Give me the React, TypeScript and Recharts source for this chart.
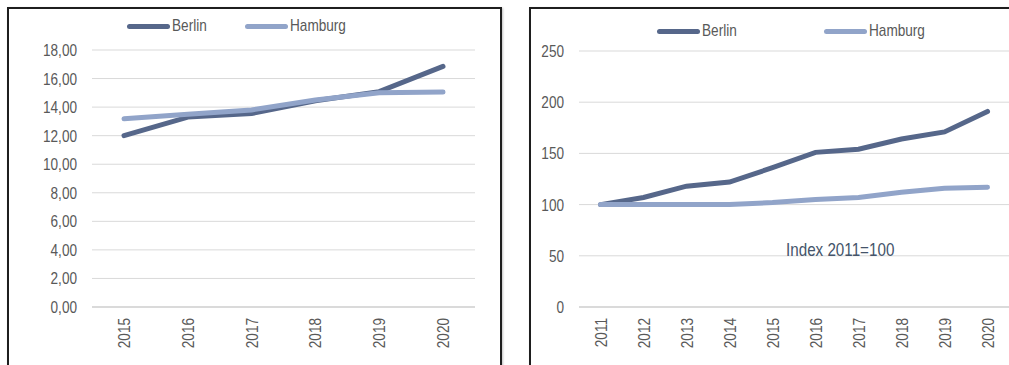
import React from "react";
import { LineChart, Line, XAxis, YAxis, CartesianGrid } from "recharts";

const yearsLeft = ["2015", "2016", "2017", "2018", "2019", "2020"];
const berlinLeft = [12.0, 13.3, 13.55, 14.45, 15.08, 16.85];
const hamburgLeft = [13.18, 13.5, 13.8, 14.5, 15.0, 15.05];
const ticksLeft = [0, 2, 4, 6, 8, 10, 12, 14, 16, 18];

const yearsRight = ["2011", "2012", "2013", "2014", "2015", "2016", "2017", "2018", "2019", "2020"];
const berlinRight = [100, 107, 118, 122, 136, 151, 154, 164, 171, 191];
const hamburgRight = [100, 100, 100, 100, 102, 105, 107, 112, 116, 117];
const ticksRight = [0, 50, 100, 150, 200, 250];

const BERLIN = "#56678a";
const HAMBURG = "#91a4c9";
const TEXT = "#595959";
const GRID = "#d9d9d9";
const FONT = "'Liberation Sans', Arial, sans-serif";
const NARROW = 0.8;
const SIZE = 17;

const leftData = yearsLeft.map((year, i) => ({
  year,
  Berlin: berlinLeft[i],
  Hamburg: hamburgLeft[i],
}));

const rightData = yearsRight.map((year, i) => ({
  year,
  Berlin: berlinRight[i],
  Hamburg: hamburgRight[i],
}));

const fmtComma = (v: number) => v.toFixed(2).replace(".", ",");

function YearTick({ x, y, payload }: any) {
  const ax = x + 6;
  const ay = y + 11;
  return (
    <text
      transform={`translate(${ax}, ${ay}) rotate(-90) scale(${NARROW}, 1)`}
      textAnchor="end"
      fill={TEXT}
      fontSize={SIZE}
      fontFamily={FONT}
    >
      {payload.value}
    </text>
  );
}

function ValueTick({ x, y, payload, format }: any) {
  return (
    <text
      transform={`translate(${x}, ${y}) scale(${NARROW}, 1)`}
      textAnchor="end"
      dy="0.355em"
      fill={TEXT}
      fontSize={SIZE}
      fontFamily={FONT}
    >
      {format ? format(payload.value) : payload.value}
    </text>
  );
}

function LegendItem({ x, y, color, label }: { x: number; y: number; color: string; label: string }) {
  return (
    <>
      <div
        style={{
          position: "absolute",
          left: x,
          top: y - 2,
          width: 43,
          height: 5,
          borderRadius: 3,
          background: color,
        }}
      />
      <div
        style={{
          position: "absolute",
          left: x + 45,
          top: y - 10,
          fontSize: SIZE,
          lineHeight: "20px",
          color: TEXT,
          fontFamily: FONT,
          transform: `scaleX(${NARROW})`,
          transformOrigin: "left center",
          whiteSpace: "nowrap",
        }}
      >
        {label}
      </div>
    </>
  );
}

function Panel({ left, width }: { left: number; width: number }) {
  return (
    <div
      style={{
        position: "absolute",
        left,
        top: 7,
        width,
        height: 380,
        borderTop: "2px solid #1e1e1e",
        borderLeft: "2px solid #1e1e1e",
        borderRight: "2px solid #1e1e1e",
        boxShadow: "1px 1px 2px rgba(0,0,0,0.25)",
        boxSizing: "border-box",
      }}
    />
  );
}

export default function App() {
  return (
    <div
      style={{
        position: "fixed",
        left: 0,
        top: 0,
        width: 1009,
        height: 365,
        background: "#fff",
        overflow: "hidden",
        fontFamily: FONT,
      }}
    >
      <Panel left={7} width={495} />
      <Panel left={529} width={500} />

      <div style={{ position: "absolute", left: 0, top: 0 }}>
        <LineChart
          width={505}
          height={365}
          data={leftData}
          margin={{ top: 50, right: 30, bottom: 0, left: 42 }}
        >
          <CartesianGrid vertical={false} stroke={GRID} />
          <XAxis
            dataKey="year"
            axisLine={{ stroke: "#c8c8c8" }}
            tickLine={false}
            tickSize={0}
            tickMargin={0}
            height={58}
            padding={{ left: 32, right: 32 }}
            tick={<YearTick />}
            interval={0}
          />
          <YAxis
            domain={[0, 18]}
            ticks={ticksLeft}
            width={50}
            axisLine={false}
            tickLine={false}
            tickSize={0}
            tickMargin={15}
            tick={<ValueTick format={fmtComma} />}
          />
          <Line
            dataKey="Berlin"
            stroke={BERLIN}
            strokeWidth={5}
            strokeLinecap="round"
            dot={false}
            isAnimationActive={false}
          />
          <Line
            dataKey="Hamburg"
            stroke={HAMBURG}
            strokeWidth={5}
            strokeLinecap="round"
            dot={false}
            isAnimationActive={false}
          />
        </LineChart>
      </div>

      <div style={{ position: "absolute", left: 505, top: 0 }}>
        <LineChart
          width={504}
          height={365}
          data={rightData}
          margin={{ top: 51, right: 0, bottom: 0, left: 34 }}
        >
          <CartesianGrid vertical={false} stroke={GRID} />
          <XAxis
            dataKey="year"
            axisLine={{ stroke: "#c8c8c8" }}
            tickLine={false}
            tickSize={0}
            tickMargin={0}
            height={58}
            padding={{ left: 21.5, right: 21.5 }}
            tick={<YearTick />}
            interval={0}
          />
          <YAxis
            domain={[0, 250]}
            ticks={ticksRight}
            width={40}
            axisLine={false}
            tickLine={false}
            tickSize={0}
            tickMargin={15}
            tick={<ValueTick />}
          />
          <Line
            dataKey="Berlin"
            stroke={BERLIN}
            strokeWidth={5}
            strokeLinecap="round"
            dot={false}
            isAnimationActive={false}
          />
          <Line
            dataKey="Hamburg"
            stroke={HAMBURG}
            strokeWidth={5}
            strokeLinecap="round"
            dot={false}
            isAnimationActive={false}
          />
        </LineChart>
      </div>

      <LegendItem x={127} y={26} color={BERLIN} label="Berlin" />
      <LegendItem x={245} y={26} color={HAMBURG} label="Hamburg" />
      <LegendItem x={657} y={31} color={BERLIN} label="Berlin" />
      <LegendItem x={824} y={31} color={HAMBURG} label="Hamburg" />

      <div
        style={{
          position: "absolute",
          left: 786,
          top: 239,
          fontSize: 19,
          lineHeight: "22px",
          color: "#44546a",
          fontFamily: FONT,
          transform: `scaleX(${NARROW})`,
          transformOrigin: "left center",
          whiteSpace: "nowrap",
        }}
      >
        Index 2011=100
      </div>
    </div>
  );
}
